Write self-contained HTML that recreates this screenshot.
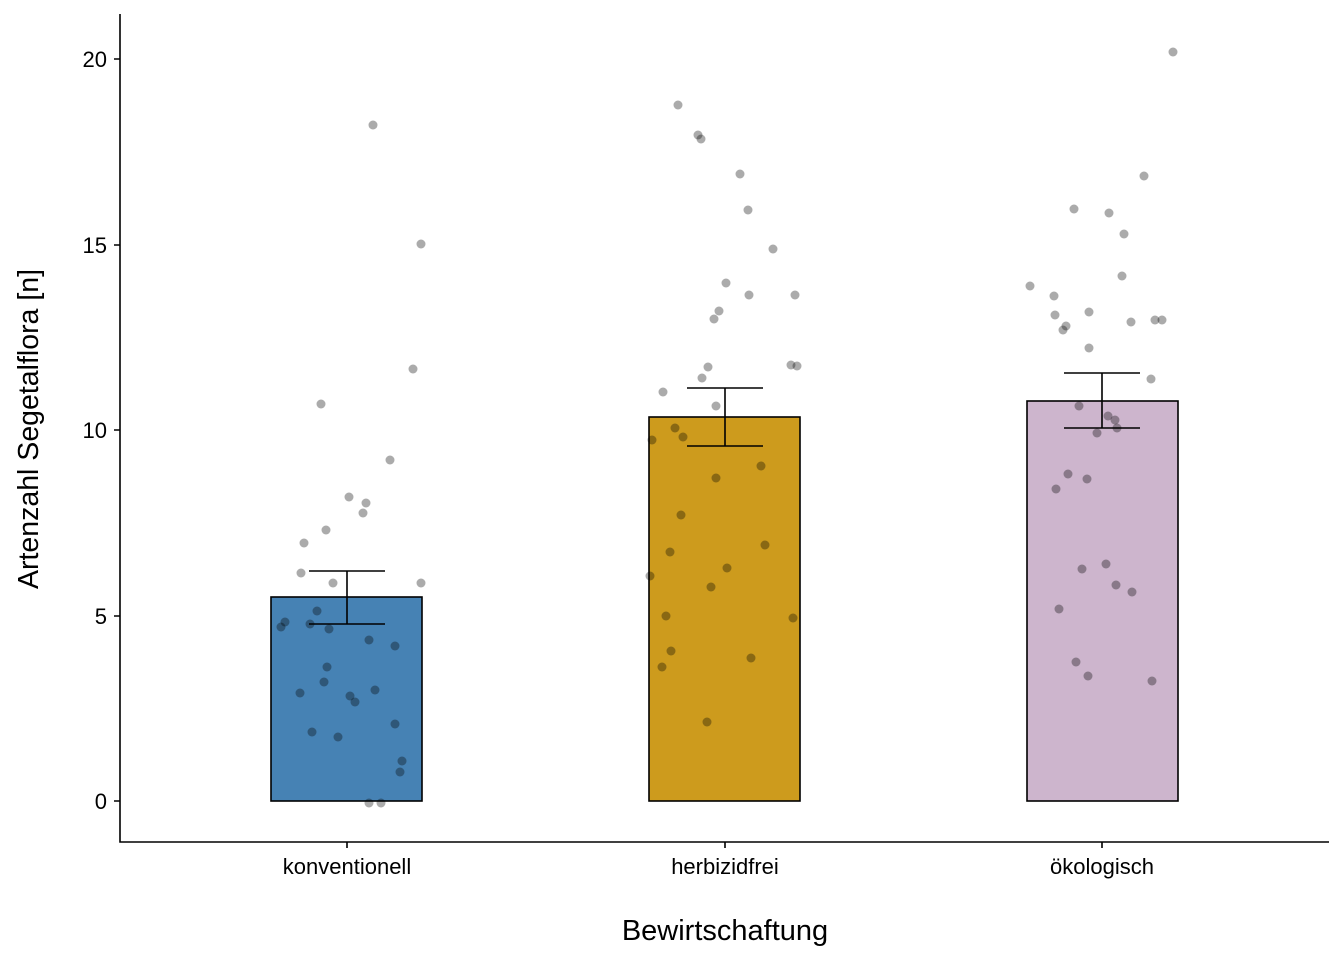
<!DOCTYPE html>
<html><head><meta charset="utf-8"><style>
html,body{margin:0;padding:0;background:#fff;}
svg{display:block;font-family:"Liberation Sans",Arial,sans-serif;}
</style></head><body>
<svg width="1344" height="960" viewBox="0 0 1344 960" xmlns="http://www.w3.org/2000/svg">
<rect width="1344" height="960" fill="#fff"/>
<rect x="271" y="597" width="151" height="204" fill="#4682b4" stroke="#000" stroke-width="1.6"/>
<rect x="649" y="417" width="151" height="384" fill="#cd9b1d" stroke="#000" stroke-width="1.6"/>
<rect x="1027" y="401" width="151" height="400" fill="#cdb5cd" stroke="#000" stroke-width="1.6"/>
<g stroke="#000" stroke-width="1.6" fill="none">
<path d="M309 571H385M347 571V624M309 624H385"/>
<path d="M687 388H763M725 388V446M687 446H763"/>
<path d="M1064 373H1140M1102 373V428M1064 428H1140"/>
</g>
<g fill="#000" fill-opacity="0.33">
<circle cx="373" cy="125" r="4.5"/><circle cx="421" cy="244" r="4.5"/><circle cx="413" cy="369" r="4.5"/><circle cx="321" cy="404" r="4.5"/><circle cx="390" cy="460" r="4.5"/><circle cx="349" cy="497" r="4.5"/><circle cx="366" cy="503" r="4.5"/><circle cx="363" cy="513" r="4.5"/><circle cx="326" cy="530" r="4.5"/><circle cx="304" cy="543" r="4.5"/><circle cx="301" cy="573" r="4.5"/><circle cx="333" cy="583" r="4.5"/><circle cx="421" cy="583" r="4.5"/><circle cx="285" cy="622" r="4.5"/><circle cx="281" cy="627" r="4.5"/><circle cx="317" cy="611" r="4.5"/><circle cx="310" cy="624" r="4.5"/><circle cx="329" cy="629" r="4.5"/><circle cx="369" cy="640" r="4.5"/><circle cx="395" cy="646" r="4.5"/><circle cx="327" cy="667" r="4.5"/><circle cx="324" cy="682" r="4.5"/><circle cx="300" cy="693" r="4.5"/><circle cx="350" cy="696" r="4.5"/><circle cx="375" cy="690" r="4.5"/><circle cx="355" cy="702" r="4.5"/><circle cx="312" cy="732" r="4.5"/><circle cx="338" cy="737" r="4.5"/><circle cx="395" cy="724" r="4.5"/><circle cx="402" cy="761" r="4.5"/><circle cx="400" cy="772" r="4.5"/><circle cx="369" cy="803" r="4.5"/><circle cx="381" cy="803" r="4.5"/>
<circle cx="678" cy="105" r="4.5"/><circle cx="698" cy="135" r="4.5"/><circle cx="701" cy="139" r="4.5"/><circle cx="740" cy="174" r="4.5"/><circle cx="748" cy="210" r="4.5"/><circle cx="773" cy="249" r="4.5"/><circle cx="726" cy="283" r="4.5"/><circle cx="749" cy="295" r="4.5"/><circle cx="795" cy="295" r="4.5"/><circle cx="719" cy="311" r="4.5"/><circle cx="714" cy="319" r="4.5"/><circle cx="708" cy="367" r="4.5"/><circle cx="791" cy="365" r="4.5"/><circle cx="797" cy="366" r="4.5"/><circle cx="702" cy="378" r="4.5"/><circle cx="663" cy="392" r="4.5"/><circle cx="716" cy="406" r="4.5"/><circle cx="652" cy="440" r="4.5"/><circle cx="675" cy="428" r="4.5"/><circle cx="683" cy="437" r="4.5"/><circle cx="716" cy="478" r="4.5"/><circle cx="761" cy="466" r="4.5"/><circle cx="681" cy="515" r="4.5"/><circle cx="670" cy="552" r="4.5"/><circle cx="765" cy="545" r="4.5"/><circle cx="727" cy="568" r="4.5"/><circle cx="650" cy="576" r="4.5"/><circle cx="711" cy="587" r="4.5"/><circle cx="666" cy="616" r="4.5"/><circle cx="793" cy="618" r="4.5"/><circle cx="671" cy="651" r="4.5"/><circle cx="751" cy="658" r="4.5"/><circle cx="662" cy="667" r="4.5"/><circle cx="707" cy="722" r="4.5"/>
<circle cx="1173" cy="52" r="4.5"/><circle cx="1144" cy="176" r="4.5"/><circle cx="1074" cy="209" r="4.5"/><circle cx="1109" cy="213" r="4.5"/><circle cx="1124" cy="234" r="4.5"/><circle cx="1122" cy="276" r="4.5"/><circle cx="1030" cy="286" r="4.5"/><circle cx="1054" cy="296" r="4.5"/><circle cx="1089" cy="312" r="4.5"/><circle cx="1055" cy="315" r="4.5"/><circle cx="1066" cy="326" r="4.5"/><circle cx="1063" cy="330" r="4.5"/><circle cx="1131" cy="322" r="4.5"/><circle cx="1155" cy="320" r="4.5"/><circle cx="1162" cy="320" r="4.5"/><circle cx="1089" cy="348" r="4.5"/><circle cx="1151" cy="379" r="4.5"/><circle cx="1079" cy="406" r="4.5"/><circle cx="1108" cy="416" r="4.5"/><circle cx="1115" cy="420" r="4.5"/><circle cx="1117" cy="428" r="4.5"/><circle cx="1097" cy="433" r="4.5"/><circle cx="1068" cy="474" r="4.5"/><circle cx="1087" cy="479" r="4.5"/><circle cx="1056" cy="489" r="4.5"/><circle cx="1106" cy="564" r="4.5"/><circle cx="1082" cy="569" r="4.5"/><circle cx="1116" cy="585" r="4.5"/><circle cx="1132" cy="592" r="4.5"/><circle cx="1059" cy="609" r="4.5"/><circle cx="1076" cy="662" r="4.5"/><circle cx="1088" cy="676" r="4.5"/><circle cx="1152" cy="681" r="4.5"/>
</g>
<g stroke="#000" stroke-width="1.6" fill="none">
<path d="M120 14V842H1329"/>
<path d="M114 801H120M114 616H120M114 430H120M114 245H120M114 59H120"/>
<path d="M347 842V848M725 842V848M1102 842V848"/>
</g>
<g font-size="22" fill="#000" text-anchor="end">
<text x="107" y="809">0</text><text x="107" y="624">5</text><text x="107" y="438">10</text><text x="107" y="253">15</text><text x="107" y="67">20</text>
</g>
<g font-size="22" fill="#000" text-anchor="middle">
<text x="347" y="874">konventionell</text><text x="725" y="874">herbizidfrei</text><text x="1102" y="874">ökologisch</text>
</g>
<text x="725" y="940" font-size="29" text-anchor="middle">Bewirtschaftung</text>
<text transform="translate(38 429) rotate(-90)" font-size="28.5" text-anchor="middle">Artenzahl Segetalflora [n]</text>
</svg>
</body></html>
